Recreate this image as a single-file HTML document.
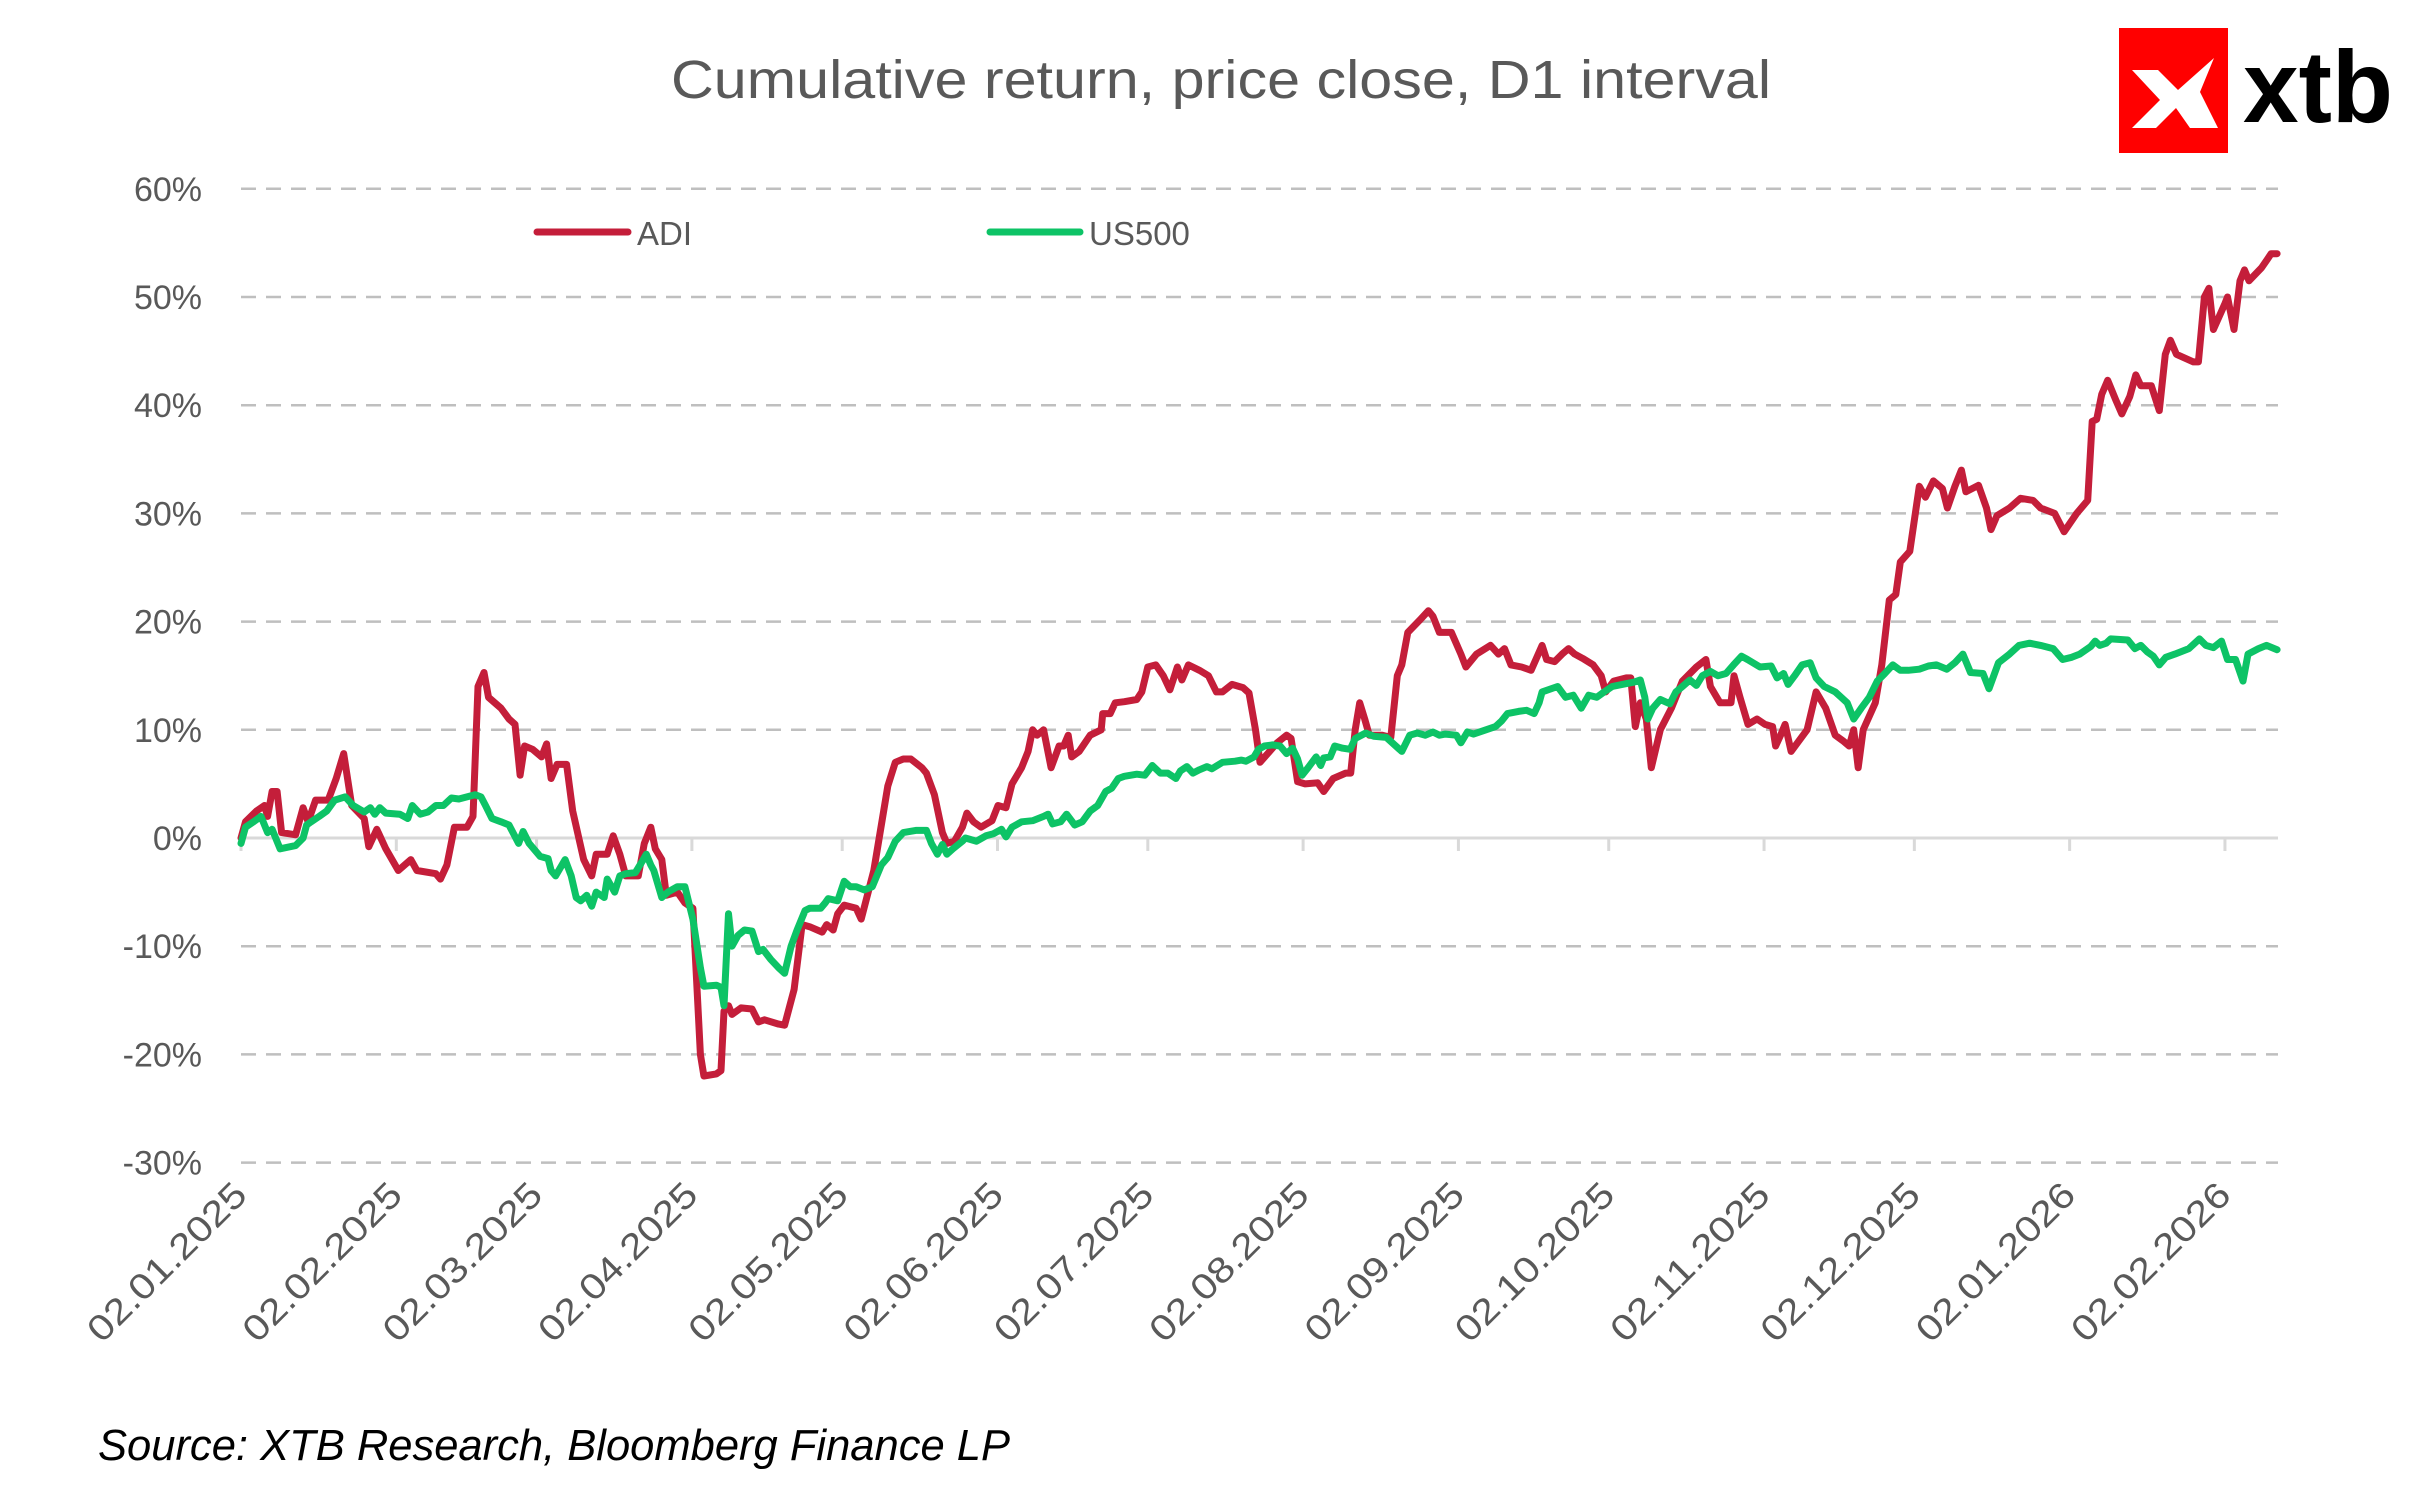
<!DOCTYPE html>
<html><head><meta charset="utf-8"><style>
html,body{margin:0;padding:0;background:#fff;}
svg{display:block;}
text{font-family:"Liberation Sans",sans-serif;}
</style></head><body>
<svg id="chart" width="2415" height="1498" viewBox="0 0 2415 1498">
<text x="1221" y="98" text-anchor="middle" font-size="54" fill="#595959" textLength="1100" lengthAdjust="spacingAndGlyphs">Cumulative return, price close, D1 interval</text>
<g>
<rect x="2119" y="28" width="109" height="125" fill="#FF0000"/>
<polygon points="2132,70 2158,70 2178,90 2214,58 2200,92 2218,128 2190,128 2176,108 2156,128 2132,128 2160,100" fill="#fff"/>
<text x="2243" y="122" font-size="102" font-weight="bold" fill="#000" textLength="150" lengthAdjust="spacingAndGlyphs">xtb</text>
</g>
<g id="grid"></g>
<g id="yLabels"></g>
<g id="xAxis"></g>
<g id="series"></g>
<g>
<g>
<line x1="537" y1="232" x2="628" y2="232" stroke="#C41E3A" stroke-width="7" stroke-linecap="round"/>
<text x="637" y="245" font-size="33" fill="#595959">ADI</text>
</g>
<g>
<line x1="990" y1="232" x2="1080" y2="232" stroke="#0DC366" stroke-width="7" stroke-linecap="round"/>
<text x="1089" y="245" font-size="33" fill="#595959">US500</text>
</g>
</g>
<text x="98" y="1460" font-size="44" font-style="italic" fill="#000" textLength="912" lengthAdjust="spacingAndGlyphs">Source: XTB Research, Bloomberg Finance LP</text>
</svg>
<script>
const yTicks = [60, 50, 40, 30, 20, 10, 0, -10, -20, -30];
const xTickDays = [0, 31, 59, 90, 120, 151, 181, 212, 243, 273, 304, 334, 365, 396];
const xTickLabels = ["02.01.2025","02.02.2025","02.03.2025","02.04.2025","02.05.2025","02.06.2025","02.07.2025","02.08.2025","02.09.2025","02.10.2025","02.11.2025","02.12.2025","02.01.2026","02.02.2026"];
const adiDays = [0,0.9,3.1,4.7,5.3,6.2,7.2,8.1,10.9,12.4,13.4,14.9,17.4,19,20.5,22.1,24.6,25.5,27.1,28.9,31.4,33.9,35.1,38.9,39.8,41.1,42.6,45.1,46.3,47.3,48.5,49.4,51.9,53.5,54.7,55.7,56.6,58.2,60,61,61.9,63.1,65,66.2,68.4,70,70.9,73.1,74.3,75.6,76.8,79.3,80.5,81.8,82.7,84,84.9,87.1,88.6,90.2,91.7,92.4,94.9,95.8,96.4,97.3,98,99.8,102,103.3,104.5,107.3,108.5,110.4,112,113.5,116,116.9,118.2,119.1,120.4,122.8,123.8,126.3,129.1,130.6,132.2,133.7,135.9,136.8,138.4,140,140.9,142.4,144,144.9,146.2,147.7,149.9,151.1,152.7,153.9,155.8,157.1,158,158.9,160.2,161.7,163.3,164.2,165.1,165.8,167.3,169.5,171.7,172,173.5,174.5,176.3,178.8,179.8,181,182.6,184.1,185.4,186.9,187.8,189.1,191.3,193.1,194.7,195.9,197.8,200,201.2,202.5,203.4,205.3,206.8,208.7,209.6,210.9,212.4,214.9,216.1,218,220.5,221.5,222.4,223.3,224.3,225.2,227.7,229.5,230.8,231.7,232.9,235.4,237,237.9,239.2,241.6,243.5,244.5,246.6,249.4,251,252.2,253.5,255.6,257.5,259.7,260.6,262.2,263.7,265,266.2,267.8,269.9,271.5,272.4,274,276.5,277.4,278.3,279.3,280.5,281.5,283.3,285.5,287.7,290.5,292.4,293.3,295.2,297.4,298,299.2,300.8,302.6,304.2,305.7,306.3,307.3,308.2,309.4,312.6,314.4,316.3,318.2,319.7,321,321.9,322.8,323.8,326.2,327.5,329,330.3,331.2,333.1,335,336.2,337.8,339.6,340.6,342.1,343.4,344.3,346.8,348.4,349.3,350.5,353,355.2,357.7,359.2,362,363.9,366.4,368.6,369.5,370.4,371.4,372.6,374.2,375.4,377,378.2,379.2,381.3,382.9,384.1,385.1,386.3,389.7,390.7,391.9,392.8,393.7,395.9,396.5,397.8,399,399.9,400.8,403.3,404.5,405.2,406.4];
const adiValues = [0,1.5,2.5,3,2,4.3,4.3,0.5,0.3,2.8,1.5,3.5,3.5,5.5,7.8,3,1.8,-0.8,0.8,-1,-3,-2,-3,-3.3,-3.8,-2.5,1,1,2,14,15.3,13,12,11,10.5,5.8,8.5,8.2,7.5,8.7,5.5,6.8,6.8,2.5,-2,-3.5,-1.5,-1.5,0.2,-1.5,-3.5,-3.5,-0.5,1,-1,-2,-5.3,-5,-6,-6.5,-20,-22,-21.8,-21.5,-16,-15.5,-16.3,-15.7,-15.8,-17,-16.8,-17.2,-17.3,-14,-8,-8.2,-8.7,-8,-8.5,-7,-6.2,-6.5,-7.5,-3,4.8,7,7.3,7.3,6.5,6,4,0.5,-0.5,-0.3,1,2.3,1.5,1,1.6,3,2.8,5,6.5,8,10,9.5,10,6.5,8.5,8.5,9.5,7.5,8,9.5,10,11.5,11.5,12.5,12.6,12.8,13.5,15.8,16,15,13.7,15.8,14.6,16,15.5,15,13.5,13.5,14.2,13.9,13.4,10,7,8,8.8,9.5,9.2,5.2,5,5.1,4.3,5.5,6,6,10,12.5,11,9.5,9.5,9.3,15,16,19,20.2,21,20.5,19,19,17,15.8,17,17.8,17,17.5,16,15.8,15.5,17.8,16.5,16.3,17,17.5,17,16.6,16,15,13.5,14.5,14.8,14.8,10.3,12.5,11,6.5,10,12,14.5,15.8,16.5,14,12.5,12.5,15,13,10.5,11,10.5,10.3,8.5,9.5,10.5,8,10,13.5,12,9.5,9,8.5,10,6.5,10,12.5,16,22,22.5,25.5,26.5,32.5,31.5,33,32.3,30.5,32.5,34,32,32.6,30.5,28.5,29.8,30.5,31.4,31.2,30.5,30,28.3,30,31.2,38.5,38.7,41,42.3,40.5,39.2,40.8,42.8,41.8,41.8,39.5,44.7,46,44.7,44,44,50,50.8,47,49.3,50,47,51.5,52.5,51.5,52.7,53.5,54,54];
const usDays = [0,0.9,2.5,4,5.3,6.2,7.8,10.9,12.4,13.1,14,15.6,17.1,18.7,20.8,22.4,24.6,25.8,26.7,27.7,28.9,31.7,33.3,34.2,35.8,37.3,38.9,40.4,42,43.5,46.7,47.9,48.8,50.1,51.9,53.5,55.4,56.3,57.5,59.7,61.3,61.9,62.8,64.7,65.9,66.9,67.8,69,70,70.9,72.5,73.1,74.6,75.6,76.8,78.7,79.9,80.9,81.8,82.4,84,85.2,87.1,88.6,90.2,91.7,92.4,94.9,95.8,96.4,97.3,98,99.2,100.5,102,103.3,104.2,105.7,107.3,108.5,109.8,111,112.6,113.5,115.7,116.6,117.2,119.1,120.4,121.6,122.8,124.4,126,127.8,129.1,130.6,132.2,134.7,136.8,137.8,139,140,140.9,142.1,144,144.6,146.8,148.7,150.2,151.8,152.7,153.9,155.8,158,160.2,161.1,162,163.6,164.8,166.4,167.9,169.5,171,172.6,173.8,175.1,176.3,178.8,180.4,181.9,183.5,185,186.6,187.5,188.8,190,191.3,192.8,193.8,195.9,198.4,199.7,200.6,202.2,203.1,204.3,205.9,207.4,208.7,209.9,210.9,211.8,213,214.6,215.5,216.1,217.4,218.3,219.9,221.4,222.4,224.5,226.1,228.6,230.5,231.7,233.3,234.8,236.4,237.9,239.2,240.4,242.6,243.5,244.8,246,248.5,250.4,251.6,252.8,255,256.6,258.1,259.1,259.7,262.8,264.4,265.9,267.5,269,270.6,272.1,273.7,276.8,278,279.3,280.2,280.8,281.8,283.3,285.2,286.4,287.7,289.2,290.5,291.7,293.3,294.8,296.4,297.9,299.5,300.7,303.2,305.4,306.6,307.9,308.8,310.1,311.6,313.2,314.4,316,318.2,319.4,320.6,321.9,323.4,325,326.6,328.1,329.7,331.2,332.8,335,336.8,338.4,340.5,342.1,343.7,345.2,347.7,348.9,350.8,353,354.9,357,359.2,361.7,363.6,365.4,367,369.2,370.1,371,372.3,373.2,376.6,378,379.2,380.5,381.7,382.9,384.2,386,388.8,390.9,392.2,393.7,395.3,396.5,398.1,399.6,400.6,402.7,404.3,406.4];
const usValues = [-0.5,1,1.5,2,0.5,0.8,-1,-0.7,0,1.2,1.5,2,2.5,3.5,3.8,3,2.4,2.8,2.2,2.8,2.3,2.2,1.8,3,2.2,2.4,3,3,3.7,3.6,4,3.8,3,1.8,1.5,1.2,-0.5,0.6,-0.5,-1.7,-1.9,-3,-3.5,-2,-3.5,-5.5,-5.8,-5.3,-6.3,-5,-5.5,-3.8,-5,-3.5,-3.3,-3.2,-2.3,-1.5,-2.5,-3,-5.5,-5,-4.5,-4.5,-7.5,-12,-13.7,-13.6,-13.8,-15.5,-7,-10,-9,-8.5,-8.6,-10.5,-10.3,-11.2,-12,-12.5,-10,-8.5,-6.7,-6.5,-6.5,-6,-5.6,-5.8,-4,-4.5,-4.5,-4.8,-4.5,-2.5,-1.8,-0.3,0.5,0.7,0.7,-0.5,-1.5,-0.6,-1.5,-1,-0.3,0,-0.3,0.2,0.4,0.8,0.1,1,1.5,1.6,2,2.2,1.3,1.5,2.2,1.2,1.5,2.5,3,4.3,4.6,5.5,5.7,5.9,5.8,6.7,6,6,5.5,6.2,6.6,6,6.3,6.6,6.4,7,7.1,7.2,7.1,7.5,8.2,8.5,8.6,8.5,7.8,8.3,7.3,5.8,6.5,7.5,6.7,7.4,7.5,8.5,8.3,8.2,9.2,9.7,9.4,9.3,8.5,8,9.5,9.7,9.5,9.8,9.5,9.6,9.5,8.8,9.8,9.6,10,10.3,10.8,11.5,11.7,11.8,11.5,12.5,13.5,14,13,13.2,12,13.2,13,13.5,14,14.3,14.4,14.6,13,11,12,12.8,12.4,13.5,14,14.6,14.1,15,15.4,15,15.2,16,16.8,16.5,15.8,15.9,14.8,15.2,14.2,15,16,16.2,14.8,14,13.5,13,12.5,11,12,13,14.5,15.2,16,15.5,15.5,15.6,15.9,16,15.6,16.2,17,15.3,15.2,13.8,16.2,17,17.8,18,17.8,17.5,16.5,16.7,17,17.7,18.2,17.8,18,18.4,18.3,17.5,17.8,17.2,16.8,16,16.7,17,17.5,18.4,17.8,17.6,18.2,16.5,16.5,14.5,17,17.5,17.8,17.4];

const NS = "http://www.w3.org/2000/svg";
const X0 = 241, PX_PER_DAY = 5.01, Y0 = 838, PX_PER_PCT = 10.82, XEND = 2278;
function xScale(d){ return X0 + d * PX_PER_DAY; }
function yScale(v){ return Y0 - v * PX_PER_PCT; }
function mk(tag, attrs, parent){ const e = document.createElementNS(NS, tag); for (const k in attrs) e.setAttribute(k, attrs[k]); parent.appendChild(e); return e; }

const grid = document.getElementById('grid');
const yl = document.getElementById('yLabels');
yTicks.forEach(t => {
  const y = yScale(t);
  if (t !== 0) {
    const l = mk('line', {x1: X0, x2: XEND, y1: y, y2: y, stroke: '#BFBFBF', 'stroke-width': 2.5, 'stroke-dasharray': '15 10'}, grid);
    
    
  }
  const tx = mk('text', {x: 202, y: y + 12, 'text-anchor': 'end', 'font-size': 34, fill: '#595959'}, yl);
  tx.textContent = t + '%';
  
  
});

const xa = document.getElementById('xAxis');
const axis = mk('line', {x1: X0, x2: XEND, y1: Y0, y2: Y0, stroke: '#D9D9D9', 'stroke-width': 3}, xa);


xTickDays.forEach((d, i) => {
  const x = xScale(d);
  const tk = mk('line', {x1: x, x2: x, y1: Y0, y2: Y0 + 13, stroke: '#D9D9D9', 'stroke-width': 3}, xa);
  
  
  const tx = mk('text', {x: 0, y: 0, 'text-anchor': 'end', 'font-size': 36, fill: '#595959', textLength: 208, lengthAdjust: 'spacingAndGlyphs', transform: 'translate(' + (x + 8) + ',1197) rotate(-45)'}, xa);
  tx.textContent = xTickLabels[i];
  
  
});

const sg = document.getElementById('series');
function drawLine(days, vals, color, name){
  const pts = days.map((d, i) => xScale(d).toFixed(1) + ',' + yScale(vals[i]).toFixed(1)).join(' ');
  const p = mk('polyline', {points: pts, fill: 'none', stroke: color, 'stroke-width': 7, 'stroke-linejoin': 'round', 'stroke-linecap': 'round'}, sg);
  
  
}
drawLine(adiDays, adiValues, '#C41E3A', 'adi-line');
drawLine(usDays, usValues, '#0DC366', 'us500-line');
</script>
</body></html>
